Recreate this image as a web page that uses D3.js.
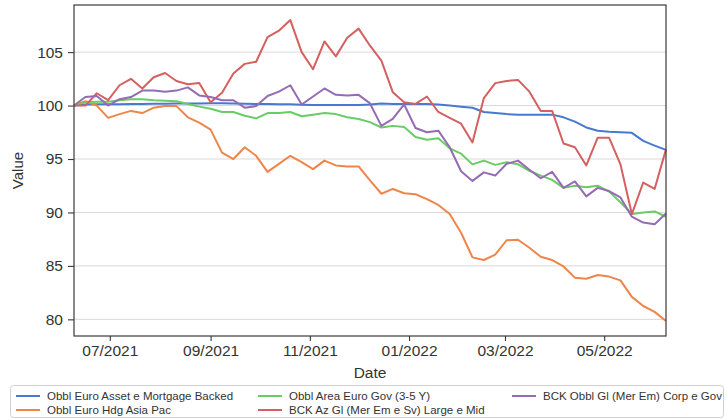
<!DOCTYPE html>
<html>
<head>
<meta charset="utf-8">
<script src="https://cdn.jsdelivr.net/npm/d3@7"></script>
<style>
  body { margin: 0; background: #fff; }
  text { font-family: "Liberation Sans", Arial, sans-serif; fill: #333; }
</style>
</head>
<body>
<svg width="727" height="419"></svg>
<script>
// weekly observations, first one on 9 June 2021
var startDate = "2021-06-09";
var nWeeks = 53;

var seriesNames = [
    "Obbl Euro Asset e Mortgage Backed",
    "Obbl Euro Hdg Asia Pac",
    "Obbl Area Euro Gov (3-5 Y)",
    "BCK Az Gl (Mer Em e Sv) Large e Mid",
    "BCK Obbl Gl (Mer Em) Corp e Gov"
];

var assetBacked = [100.0, 100.1, 100.12, 100.12, 100.13, 100.15, 100.15, 100.17, 100.18, 100.2,
    100.2, 100.2, 100.22, 100.22, 100.2, 100.18, 100.15, 100.15, 100.12, 100.12,
    100.08, 100.05, 100.05, 100.05, 100.05, 100.05, 100.1, 100.2, 100.15, 100.15,
    100.15, 100.15, 100.1, 100.0, 99.9, 99.8, 99.4, 99.3, 99.2, 99.15,
    99.15, 99.15, 99.15, 98.9, 98.5, 97.95, 97.65, 97.55, 97.5, 97.45,
    96.7, 96.25, 95.85];

var asiaPac = [100.0, 100.4, 100.0, 98.85, 99.2, 99.5, 99.3, 99.8, 99.95, 99.95,
    98.9, 98.4, 97.75, 95.6, 95.0, 96.1, 95.3, 93.8, 94.55, 95.3,
    94.7, 94.05, 94.85, 94.4, 94.3, 94.3, 93.0, 91.75, 92.2, 91.8,
    91.7, 91.25, 90.7, 89.85, 88.1, 85.8, 85.55, 86.05, 87.4, 87.45,
    86.7, 85.85, 85.55, 84.95, 83.9, 83.8, 84.15, 84.0, 83.65, 82.1,
    81.25, 80.7, 79.85];

var euroGov = [100.0, 100.3, 100.35, 100.35, 100.5, 100.6, 100.6, 100.5, 100.45, 100.4,
    100.15, 99.9, 99.7, 99.4, 99.4, 99.05, 98.8, 99.3, 99.3, 99.4,
    99.0, 99.15, 99.3, 99.2, 98.9, 98.75, 98.45, 97.95, 98.1, 98.0,
    97.05, 96.8, 96.95, 96.0, 95.5, 94.5, 94.85, 94.45, 94.7, 94.5,
    93.9, 93.45, 93.05, 92.3, 92.5, 92.35, 92.5, 91.95, 90.95, 89.85,
    90.0, 90.1, 89.6];

var largeMid = [100.0, 100.0, 101.15, 100.5, 101.9, 102.5, 101.6, 102.65, 103.05, 102.3,
    102.0, 102.1, 100.3, 101.2, 103.0, 103.9, 104.1, 106.4, 107.0, 108.0,
    105.0, 103.4, 106.0, 104.6, 106.35, 107.2, 105.6, 104.2, 101.25, 100.3,
    100.15, 100.85, 99.4, 98.85, 98.3, 96.55, 100.7, 102.1, 102.3, 102.4,
    101.3, 99.5, 99.5, 96.45, 96.1, 94.4, 97.0, 97.0, 94.5, 89.85,
    92.8, 92.2, 95.9];

var corpGov = [100.0, 100.8, 100.9, 100.0, 100.6, 100.8, 101.4, 101.4, 101.3, 101.4,
    101.7, 100.95, 100.8, 100.5, 100.5, 99.8, 99.95, 100.9, 101.3, 101.9,
    100.1, 100.85, 101.6, 101.0, 100.95, 101.0, 100.2, 98.1, 98.75, 100.1,
    97.9, 97.5, 97.65, 96.1, 93.85, 92.95, 93.75, 93.45, 94.55, 94.85,
    94.0, 93.2, 93.8, 92.3, 92.9, 91.5, 92.3, 92.0, 91.4, 89.6,
    89.05, 88.9, 89.9];

var yTicks = [80, 85, 90, 95, 100, 105];

var colors = ["#4878d0", "#ee854a", "#6acc64", "#d65f5f", "#956cb4"];

var svg = d3.select("svg"),
    margin = {top: 5, right: 61, bottom: 83, left: 74},
    width = +svg.attr("width") - margin.left - margin.right,
    height = +svg.attr("height") - margin.top - margin.bottom;

var t0 = d3.timeParse("%Y-%m-%d")(startDate);
var dates = d3.range(nWeeks).map(function(i) { return d3.timeDay.offset(t0, i * 7); });

var allSeries = [assetBacked, asiaPac, euroGov, largeMid, corpGov];

var x = d3.scaleTime().domain(d3.extent(dates)).range([0, width]);

// 5% padding on y like matplotlib's autoscale
var lo = d3.min(allSeries, function(s) { return d3.min(s); }),
    hi = d3.max(allSeries, function(s) { return d3.max(s); }),
    pad = (hi - lo) * 0.05;
var y = d3.scaleLinear().domain([lo - pad, hi + pad]).range([height, 0]);

var g = svg.append("g")
    .attr("transform", "translate(" + margin.left + "," + margin.top + ")");

// grid
g.selectAll(".grid")
    .data(yTicks)
    .enter().append("line")
    .attr("x1", 0).attr("x2", width)
    .attr("y1", function(d) { return y(d); })
    .attr("y2", function(d) { return y(d); })
    .attr("stroke", "#d9d9d9")
    .attr("stroke-width", 1);

var line = d3.line()
    .x(function(d, i) { return x(dates[i]); })
    .y(function(d) { return y(d); });

g.selectAll(".series")
    .data(allSeries)
    .enter().append("path")
    .attr("fill", "none")
    .attr("stroke", function(d, i) { return colors[i]; })
    .attr("stroke-width", 2)
    .attr("stroke-linejoin", "round")
    .attr("d", line);

// frame
g.append("rect")
    .attr("width", width).attr("height", height)
    .attr("fill", "none")
    .attr("stroke", "#3a3a3a")
    .attr("stroke-width", 1.2);

var xAxis = g.append("g")
    .attr("transform", "translate(0," + height + ")")
    .call(d3.axisBottom(x).ticks(d3.timeMonth.every(2)).tickFormat(d3.timeFormat("%m/%Y")).tickSizeInner(5).tickSizeOuter(0).tickPadding(4));

var yAxis = g.append("g")
    .call(d3.axisLeft(y).tickValues(yTicks).tickSizeInner(6).tickSizeOuter(0).tickPadding(5));

[xAxis, yAxis].forEach(function(a) {
    a.select(".domain").remove();
    a.selectAll(".tick line").attr("stroke", "#3a3a3a").attr("stroke-width", 1.1);
    a.selectAll("text").style("font-size", "15.5px").attr("fill", "#333");
});

svg.append("text")
    .attr("x", margin.left + width / 2)
    .attr("y", 378)
    .attr("text-anchor", "middle")
    .style("font-size", "15.5px")
    .text("Date");

svg.append("text")
    .attr("transform", "translate(23," + (margin.top + height / 2) + ") rotate(-90)")
    .attr("text-anchor", "middle")
    .style("font-size", "15px")
    .text("Value");

// legend, 3 columns filled top to bottom
var legend = svg.append("g");
legend.append("rect")
    .attr("x", 10.5).attr("y", 385.5)
    .attr("width", 713).attr("height", 32)
    .attr("rx", 3)
    .attr("fill", "#fff")
    .attr("stroke", "#d0d0d0");

var colX = [16, 258, 512];
seriesNames.forEach(function(name, i) {
    var cx = colX[Math.floor(i / 2)],
        cy = 396 + (i % 2) * 14;
    legend.append("line")
        .attr("x1", cx).attr("x2", cx + 24)
        .attr("y1", cy).attr("y2", cy)
        .attr("stroke", colors[i])
        .attr("stroke-width", 2);
    legend.append("text")
        .attr("x", cx + 31)
        .attr("y", cy + 4)
        .style("font-size", "11.5px")
        .text(name);
});
</script>
</body>
</html>
